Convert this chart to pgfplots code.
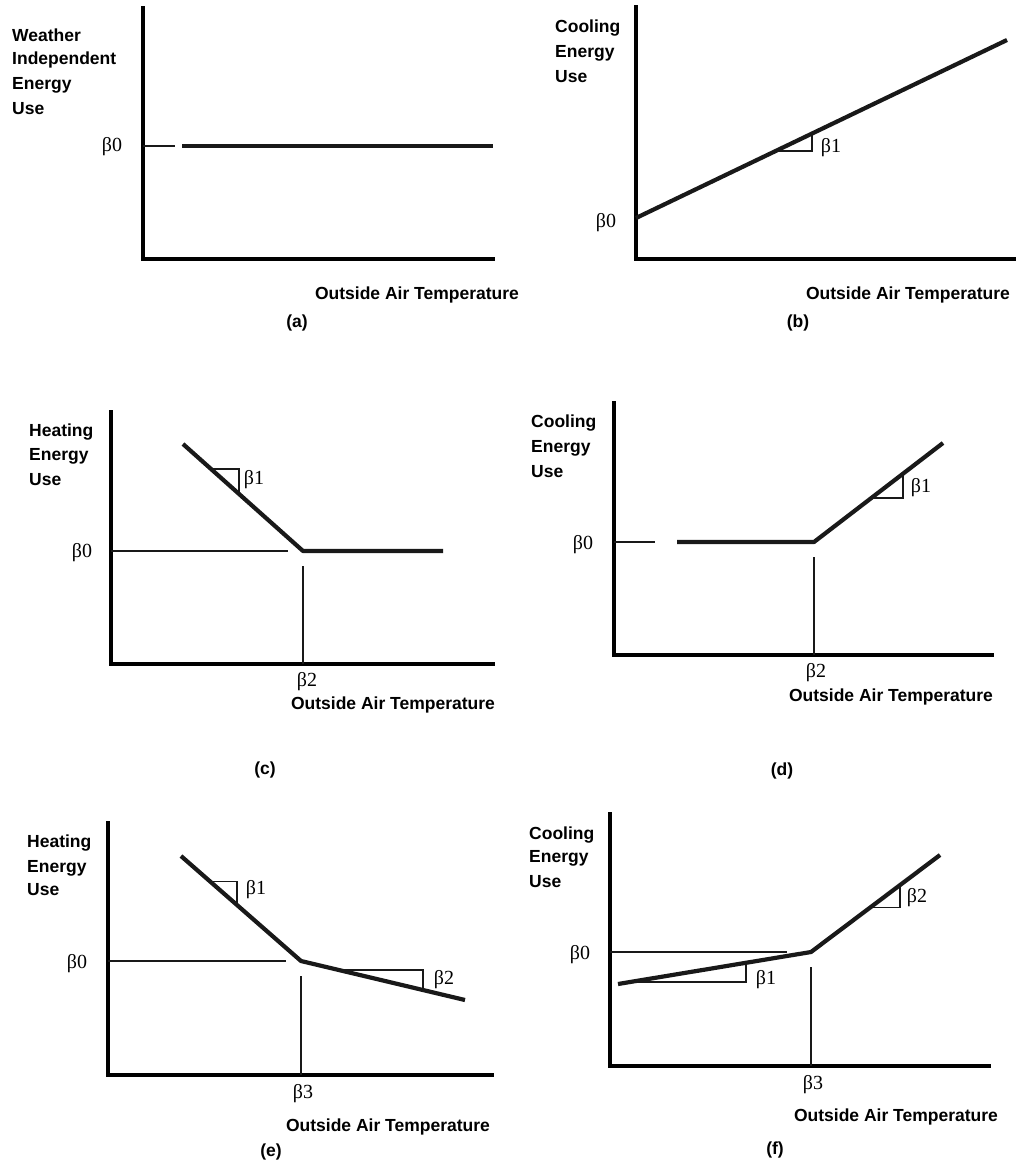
\documentclass[border=0pt]{standalone}
\usepackage{fontspec}
\setmainfont{Liberation Sans}
\newfontfamily\betafont{Liberation Serif}
\usepackage{pgfplots}
\pgfplotsset{compat=1.18}

\pgfplotsset{
  panel/.style={
    x=1pt, y=1pt, xmin=0, ymin=0, enlargelimits=false,
    axis lines=left, axis line style={-, line width=3.2pt, line cap=rect},
    xtick=\empty, ytick=\empty, clip=false, anchor=south west,
  },
  thickln/.style={black!90, line width=4.2pt, line join=round},
  thinln/.style={black!90, line width=2pt},
  tri/.style={black!90, line width=1.7pt},
}
\newcommand{\ylab}[3]{\node[anchor=west, inner sep=0, font=\fontsize{17.5}{20}\selectfont\bfseries] at (#1pt,-#2pt) {#3};}
\newcommand{\clab}[3]{\node[inner sep=0, font=\fontsize{17.5}{20}\selectfont\bfseries] at (#1pt,-#2pt) {#3};}
\newcommand{\bet}[3]{\node[inner sep=0, font=\betafont\fontsize{20}{22}\selectfont] at (#1pt,-#2pt) {β#3};}

\begin{document}
\begin{tikzpicture}
\path[use as bounding box] (0pt,0pt) rectangle (1016pt,-1164pt);

% (a) weather independent
\begin{axis}[panel, at={(143pt,-259pt)}, xmax=350, ymax=251]
\addplot[thinln] coordinates {(0,113) (32,113)};
\addplot[thickln] coordinates {(39,113) (350,113)};
\end{axis}
\ylab{12}{35}{Weather}
\ylab{12}{60}{Independent}
\ylab{12}{85}{Energy}
\ylab{12}{109}{Use}
\bet{112}{147}{0}
\clab{417}{295}{Outside Air Temperature}
\clab{297}{323}{(a)}

% (b) cooling, two-parameter
\begin{axis}[panel, at={(636pt,-259pt)}, xmax=378, ymax=252]
\addplot[thickln] coordinates {(0,41) (371,219)};
\addplot[tri] coordinates {(139,107.7) (176,107.7) (176,125.4)};
\end{axis}
\ylab{555}{28}{Cooling}
\ylab{555}{53}{Energy}
\ylab{555}{77}{Use}
\bet{831}{148}{1}
\bet{606}{223}{0}
\clab{908}{295}{Outside Air Temperature}
\clab{798}{323}{(b)}

% (c) heating, three-parameter
\begin{axis}[panel, at={(111pt,-664pt)}, xmax=382, ymax=252]
\addplot[thinln] coordinates {(0,113) (177,113)};
\addplot[thinln] coordinates {(192,0) (192,98)};
\addplot[thickln] coordinates {(72,220) (192,113) (332,113)};
\addplot[tri] coordinates {(100,195) (128,195) (128,170.1)};
\end{axis}
\ylab{29}{432}{Heating}
\ylab{29}{456}{Energy}
\ylab{29}{480}{Use}
\bet{254}{480}{1}
\bet{82}{553}{0}
\bet{307}{682}{2}
\clab{393}{705}{Outside Air Temperature}
\clab{265}{770}{(c)}

% (d) cooling, three-parameter
\begin{axis}[panel, at={(614pt,-655pt)}, xmax=378, ymax=252]
\addplot[thinln] coordinates {(0,113) (41,113)};
\addplot[thinln] coordinates {(200,0) (200,98)};
\addplot[thickln] coordinates {(63,113) (200,113) (329,212)};
\addplot[tri] coordinates {(257,156.7) (289,156.7) (289,181.3)};
\end{axis}
\ylab{531}{423}{Cooling}
\ylab{531}{448}{Energy}
\ylab{531}{472}{Use}
\bet{921}{488}{1}
\bet{583}{545}{0}
\bet{816}{673}{2}
\clab{891}{697}{Outside Air Temperature}
\clab{782}{771}{(d)}

% (e) heating, four-parameter
\begin{axis}[panel, at={(108pt,-1075pt)}, xmax=384, ymax=252]
\addplot[thinln] coordinates {(0,114) (178,114)};
\addplot[thinln] coordinates {(193,0) (193,99)};
\addplot[thickln] coordinates {(73,219) (193,114) (357,75)};
\addplot[tri] coordinates {(102,193.6) (129,193.6) (129,170)};
\addplot[tri] coordinates {(230,105.2) (315,105.2) (315,85)};
\end{axis}
\ylab{27}{843}{Heating}
\ylab{27}{868}{Energy}
\ylab{27}{890}{Use}
\bet{256}{890}{1}
\bet{444}{980}{2}
\bet{77}{964}{0}
\bet{303}{1094}{3}
\clab{388}{1127}{Outside Air Temperature}
\clab{271}{1152}{(e)}

% (f) cooling, four-parameter
\begin{axis}[panel, at={(610pt,-1066pt)}, xmax=379, ymax=252]
\addplot[thinln] coordinates {(0,114) (177,114)};
\addplot[thinln] coordinates {(201,0) (201,99)};
\addplot[thickln] coordinates {(8,82) (201,114) (330,211)};
\addplot[tri] coordinates {(22,84.3) (136,84.3) (136,103.2)};
\addplot[tri] coordinates {(260,158.4) (290,158.4) (290,180.9)};
\end{axis}
\ylab{529}{835}{Cooling}
\ylab{529}{858}{Energy}
\ylab{529}{882}{Use}
\bet{766}{980}{1}
\bet{917}{898}{2}
\bet{580}{955}{0}
\bet{813}{1085}{3}
\clab{896}{1117}{Outside Air Temperature}
\clab{775}{1150}{(f)}
\end{tikzpicture}
\end{document}
